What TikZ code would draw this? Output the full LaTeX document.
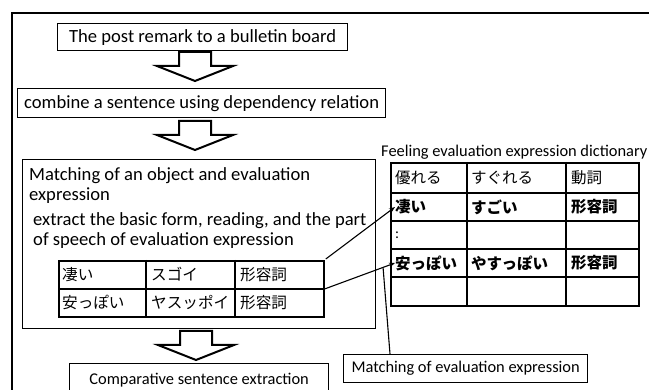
\documentclass[tikz,border=0pt]{standalone}
\usepackage{fontspec}
\setmainfont{Carlito}
\newfontfamily\jp{Noto Sans CJK JP}
\usetikzlibrary{arrows.meta,calc}

\begin{document}
\begin{tikzpicture}[x=1pt,y=-1pt,
  box/.style={draw,line width=1.3pt,inner sep=0pt,anchor=north west},
  big/.style={font=\fontsize{18.6}{20}\selectfont},
  small/.style={font=\fontsize{16.4}{18}\selectfont},
  cell/.style={anchor=west,inner sep=0pt,font=\jp\fontsize{15.5}{17}\selectfont},
  bcell/.style={cell,font=\jp\bfseries\fontsize{15.5}{17}\selectfont},
  scell/.style={anchor=west,inner sep=0pt,font=\jp\fontsize{15.6}{17}\selectfont},
  tline/.style={line width=1.8pt},
  link/.style={line width=1.1pt,-{Stealth[length=6pt,width=4.5pt]}},
  blockarrow/.pic={\draw[line width=2pt,line join=miter,fill=white]
    (-16,0) -- (16,0) -- (16,14) -- (38,14) -- (0,29) -- (-38,14) -- (-16,14) -- cycle;}
]
\useasboundingbox (0,0) rectangle (649,390);
\clip (0,0) rectangle (649,390);

% outer frame, running off the page on the right and at the bottom
\draw[line width=2.2pt] (670,13) -- (12,13) -- (12,410);

% processing steps
\node[box,big,minimum width=290,minimum height=27] (b1) at (57,23)
  {The post remark to a bulletin board};
\pic at (195,52) {blockarrow};
\node[box,big,minimum width=368,minimum height=29] (b2) at (17,88)
  {combine a sentence using dependency relation};
\pic at (195,121) {blockarrow};
\node[box,line width=1.1pt,minimum width=353,minimum height=169] (b3) at (22,159) {};
\node[big,anchor=base west,inner sep=0pt] (t1) at (29,180.5) {Matching of an object and evaluation};
\node[big,anchor=base west,inner sep=0pt] (t2) at (29,200.5) {expression};
\node[big,anchor=base west,inner sep=0pt] (t3) at (33,225.5) {extract the basic form, reading, and the part};
\node[big,anchor=base west,inner sep=0pt] (t4) at (33,245.5) {of speech of evaluation expression};
\pic at (196,331) {blockarrow};
\node[box,small,minimum width=259,minimum height=34] (b4) at (69,363)
  {Comparative sentence extraction};

% extracted words
\node[box,tline,minimum width=265,minimum height=56] (st) at (58,260) {};
\draw[tline] (st.west) -- (st.east);
\draw[tline] ($(st.north west)+(88,0)$) -- ($(st.south west)+(88,0)$);
\draw[tline] ($(st.north west)+(177,0)$) -- ($(st.south west)+(177,0)$);
\node[scell] (s11) at (62,274.5) {凄い};
\node[scell] (s12) at (151,274.5) {スゴイ};
\node[scell] (s13) at (240,274.5) {形容詞};
\node[scell] (s21) at (62,302.5) {安っぽい};
\node[scell] (s22) at (151,302.5) {ヤスッポイ};
\node[scell] (s23) at (240,302.5) {形容詞};

% dictionary
\node[small,anchor=base west,inner sep=0pt] (dt) at (381,157) {Feeling evaluation expression dictionary};
\node[box,tline,minimum width=248,minimum height=143] (dict) at (390,162) {};
\foreach \r in {31,59,87,115}
  \draw[tline] ($(dict.north west)+(0,\r)$) -- ($(dict.north east)+(0,\r)$);
\foreach \c in {77,176}
  \draw[tline] ($(dict.north west)+(\c,0)$) -- ($(dict.south west)+(\c,0)$);
\node[cell] (d11) at (395,177.5) {優れる};
\node[cell] (d12) at (471,177.5) {すぐれる};
\node[cell] (d13) at (571,177.5) {動詞};
\node[bcell] (d21) at (395,207) {凄い};
\node[bcell] (d22) at (471,207) {すごい};
\node[bcell] (d23) at (571,207) {形容詞};
\node[cell,font=\fontsize{15}{17}\selectfont] (d31) at (395,235) {:};
\node[bcell] (d41) at (395,263) {安っぽい};
\node[bcell] (d42) at (471,263) {やすっぽい};
\node[bcell] (d43) at (571,263) {形容詞};

% lookups into the dictionary
\draw[link] ($(st.north east)+(1,-1)$) -- (d21.west);
\draw[link] (st.east) -- (d41.west);
\path (st.east) -- (d41.west) coordinate[pos=0.83] (jn);

\node[box,small,minimum width=244,minimum height=28] (bm) at (343,354)
  {Matching of evaluation expression};
\coordinate (bmtop) at ($(bm.north west)+(47,0)$);
\draw[line width=1.1pt] (bmtop) -- (jn);
\end{tikzpicture}
\end{document}
